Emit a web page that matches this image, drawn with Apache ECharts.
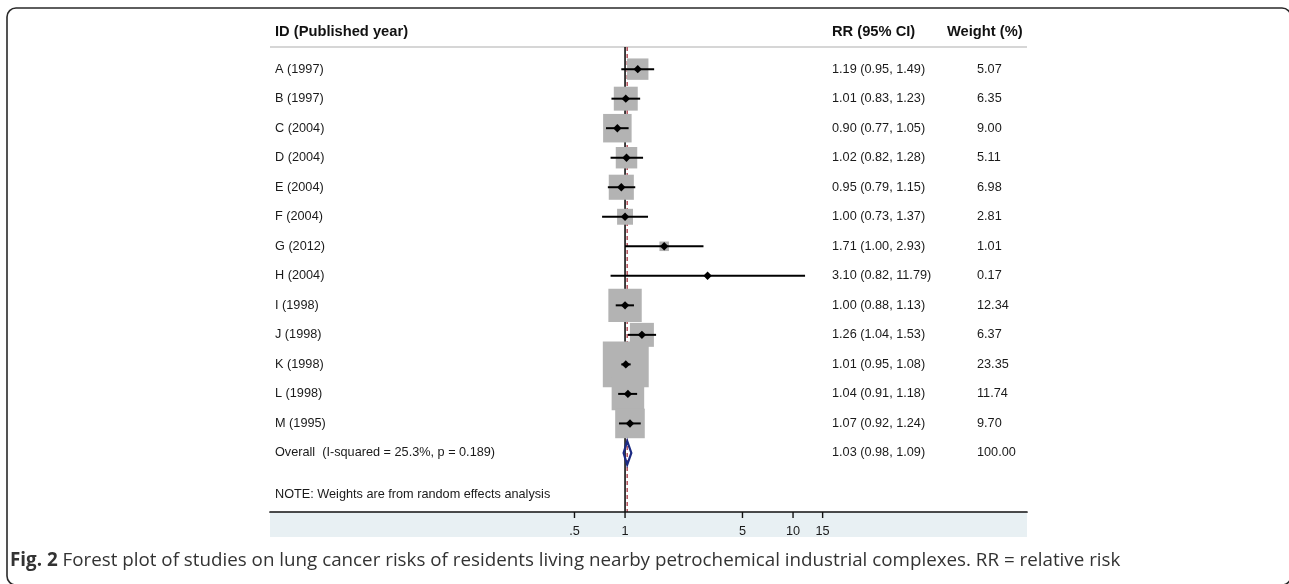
<!DOCTYPE html>
<html>
<head>
<meta charset="utf-8">
<script src="https://cdn.jsdelivr.net/npm/echarts@6/dist/echarts.min.js"></script>
<style>
html,body{margin:0;padding:0;background:#fff;}
#chart{width:1289px;height:584px;}
</style>
</head>
<body>
<div id="chart"></div>
<script>
// ---------- data ----------
const studyIds = ['A (1997)','B (1997)','C (2004)','D (2004)','E (2004)','F (2004)','G (2012)','H (2004)','I (1998)','J (1998)','K (1998)','L (1998)','M (1995)'];
const rrValues = [1.19,1.01,0.90,1.02,0.95,1.00,1.71,3.10,1.00,1.26,1.01,1.04,1.07];
const ciLow    = [0.95,0.83,0.77,0.82,0.79,0.73,1.00,0.82,0.88,1.04,0.95,0.91,0.92];
const ciHigh   = [1.49,1.23,1.05,1.28,1.15,1.37,2.93,11.79,1.13,1.53,1.08,1.18,1.24];
const weights  = [5.07,6.35,9.00,5.11,6.98,2.81,1.01,0.17,12.34,6.37,23.35,11.74,9.70];
const overallLabel = 'Overall  (I-squared = 25.3%, p = 0.189)';
const overallRR = 1.03, overallLow = 0.98, overallHigh = 1.09, overallWeight = 100.00;
const tickValues = [0.5,1,5,10,15];
const tickLabels = ['.5','1','5','10','15'];
const headerLabels = ['ID (Published year)','RR (95% CI)','Weight (%)'];
const noteText = 'NOTE: Weights are from random effects analysis';
const captionBold = 'Fig. 2';
const captionText = ' Forest plot of studies on lung cancer risks of residents living nearby petrochemical industrial complexes. RR = relative risk';

// ---------- layout / style ----------
const X_MIN = 0.0077, X_MAX = 247;
const Y_TOP = 0.25, Y_AXIS = 16, Y_BAND = 16.85;
const TXT_FONT = '"Liberation Sans", Arial, Helvetica, sans-serif';
const COL_ID = 5, COL_RR = 562, COL_WHDR = 677, COL_W = 707;
const BOX_SCALE = 9.5;

const nStudies = studyIds.length;
const overallRow = nStudies + 1;
const noteRow = nStudies + 2.4;
const headerRow = -0.27;

const fmt = v => v.toFixed(2);

// table rows: [x(dummy positive), y, label, rrText, weightText]
const tableRows = studyIds.map((id, i) => [1, i + 1, id, fmt(rrValues[i]) + ' (' + fmt(ciLow[i]) + ', ' + fmt(ciHigh[i]) + ')', fmt(weights[i])]);
tableRows.push([1, overallRow, overallLabel, fmt(overallRR) + ' (' + fmt(overallLow) + ', ' + fmt(overallHigh) + ')', fmt(overallWeight)]);
tableRows.push([1, noteRow, noteText, '', '']);

const studyData = studyIds.map((id, i) => [rrValues[i], i + 1, ciLow[i], ciHigh[i], weights[i]]);

const chart = echarts.init(document.getElementById('chart'), null, {renderer: 'canvas'});

function textEl(x, y, text, opts) {
  return {
    type: 'text', x: x, y: y,
    style: Object.assign({
      text: text, fill: '#1a1a1a', font: '12.7px ' + TXT_FONT,
      align: 'left', verticalAlign: 'middle'
    }, opts || {})
  };
}

const option = {
  animation: false,
  backgroundColor: '#ffffff',
  grid: {left: 270, right: 262, top: 47, bottom: 72, containLabel: false},
  xAxis: {
    type: 'log', logBase: 10, min: X_MIN, max: X_MAX,
    axisLine: {show: true, lineStyle: {color: '#111', width: 1.7}},
    axisTick: {show: false}, axisLabel: {show: false}, splitLine: {show: false},
    z: 20
  },
  yAxis: {
    type: 'value', inverse: true, min: Y_TOP, max: Y_AXIS,
    show: false, splitLine: {show: false}
  },
  graphic: [
    {
      type: 'rect', z: 100,
      shape: {x: 7, y: 8, width: 1284, height: 577, r: 9},
      style: {fill: 'none', stroke: '#2a2a2a', lineWidth: 1.6}
    },
    {
      type: 'text', left: 10, top: 551, z: 100,
      style: {
        text: '{b|' + captionBold + '}{n|' + captionText + '}',
        rich: {
          b: {font: 'bold 18.8px "Open Sans", sans-serif', fill: '#333'},
          n: {font: '18.8px "Open Sans", sans-serif', fill: '#333'}
        }
      }
    }
  ],
  series: [
    { // axis band
      type: 'custom', name: 'band', z: 1, silent: true,
      data: [[1, Y_AXIS]],
      renderItem: function (params, api) {
        const p0 = api.coord([X_MIN, Y_AXIS]);
        const p1 = api.coord([X_MAX, Y_BAND]);
        return {type: 'rect', shape: {x: p0[0], y: p0[1], width: p1[0] - p0[0], height: p1[1] - p0[1]},
                style: {fill: '#e8f0f3'}};
      }
    },
    { // header underline
      type: 'custom', name: 'headerline', z: 2, silent: true,
      data: [[1, Y_TOP]],
      renderItem: function (params, api) {
        const p0 = api.coord([X_MIN, Y_TOP]);
        const p1 = api.coord([X_MAX, Y_TOP]);
        return {type: 'line', shape: {x1: p0[0], y1: p0[1], x2: p1[0], y2: p1[1]},
                style: {stroke: '#c8c8c8', lineWidth: 1.5}};
      }
    },
    { // ticks + labels
      type: 'custom', name: 'ticks', z: 30, silent: true,
      data: tickValues.map((v, i) => [v, Y_AXIS, tickLabels[i]]),
      renderItem: function (params, api) {
        const p = api.coord([api.value(0), Y_AXIS]);
        return {type: 'group', children: [
          {type: 'line', shape: {x1: p[0], y1: p[1], x2: p[0], y2: p[1] + 6}, style: {stroke: '#111', lineWidth: 1.4}},
          textEl(p[0], p[1] + 19, tickLabels[params.dataIndex], {align: 'center'})
        ]};
      }
    },
    { // reference lines: null (1) and overall
      type: 'custom', name: 'reflines', z: 3, silent: true,
      data: [[1, Y_TOP, 0], [overallRR, Y_TOP, 1]],
      renderItem: function (params, api) {
        const v = api.value(0);
        const p0 = api.coord([v, Y_TOP]);
        const p1 = api.coord([v, Y_AXIS]);
        const dashed = api.value(2) === 1;
        return {type: 'line', shape: {x1: p0[0], y1: p0[1], x2: p1[0], y2: p1[1]},
                style: dashed ? {stroke: '#b5525c', lineWidth: 1.5, lineDash: [4, 3]}
                              : {stroke: '#111', lineWidth: 1.6}};
      }
    },
    { // weight boxes
      type: 'custom', name: 'boxes', z: 5, silent: true,
      data: studyData,
      renderItem: function (params, api) {
        const c = api.coord([api.value(0), api.value(1)]);
        const s = BOX_SCALE * Math.sqrt(api.value(4));
        return {type: 'rect', shape: {x: c[0] - s / 2, y: c[1] - s / 2, width: s, height: s},
                style: {fill: '#b3b3b3'}};
      }
    },
    { // confidence intervals + point estimate
      type: 'custom', name: 'ci', z: 6, silent: true,
      data: studyData,
      renderItem: function (params, api) {
        const y = api.value(1);
        const c = api.coord([api.value(0), y]);
        const l = api.coord([api.value(2), y]);
        const h = api.coord([api.value(3), y]);
        const d = 4.2;
        return {type: 'group', children: [
          {type: 'line', shape: {x1: l[0], y1: l[1], x2: h[0], y2: h[1]}, style: {stroke: '#000', lineWidth: 2}},
          {type: 'polygon', shape: {points: [[c[0] - d, c[1]], [c[0], c[1] - d], [c[0] + d, c[1]], [c[0], c[1] + d]]},
           style: {fill: '#000'}}
        ]};
      }
    },
    { // overall diamond
      type: 'custom', name: 'overall', z: 7, silent: true,
      data: [[overallRR, overallRow, overallLow, overallHigh]],
      renderItem: function (params, api) {
        const y = api.value(1);
        const top = api.coord([api.value(0), y - 0.4]);
        const bot = api.coord([api.value(0), y + 0.4]);
        const l = api.coord([api.value(2), y]);
        const h = api.coord([api.value(3), y]);
        return {type: 'polygon', shape: {points: [l, top, h, bot]},
                style: {fill: 'none', stroke: '#1b2a83', lineWidth: 2.2}};
      }
    },
    { // table text
      type: 'custom', name: 'table', z: 10, silent: true,
      data: tableRows,
      renderItem: function (params, api) {
        const gx = params.coordSys.x;
        const row = tableRows[params.dataIndex];
        const p = api.coord([1, row[1]]);
        const kids = [textEl(gx + COL_ID, p[1], row[2])];
        if (row[3]) kids.push(textEl(gx + COL_RR, p[1], row[3]));
        if (row[4]) kids.push(textEl(gx + COL_W, p[1], row[4]));
        return {type: 'group', children: kids};
      }
    },
    { // header text
      type: 'custom', name: 'header', z: 10, silent: true,
      data: [[1, headerRow]],
      renderItem: function (params, api) {
        const gx = params.coordSys.x;
        const p = api.coord([1, headerRow]);
        const hs = {font: 'bold 14.7px ' + TXT_FONT, fill: '#111'};
        return {type: 'group', children: [
          textEl(gx + COL_ID, p[1], headerLabels[0], hs),
          textEl(gx + COL_RR, p[1], headerLabels[1], hs),
          textEl(gx + COL_WHDR, p[1], headerLabels[2], hs)
        ]};
      }
    }
  ]
};
chart.setOption(option);
</script>
</body>
</html>
